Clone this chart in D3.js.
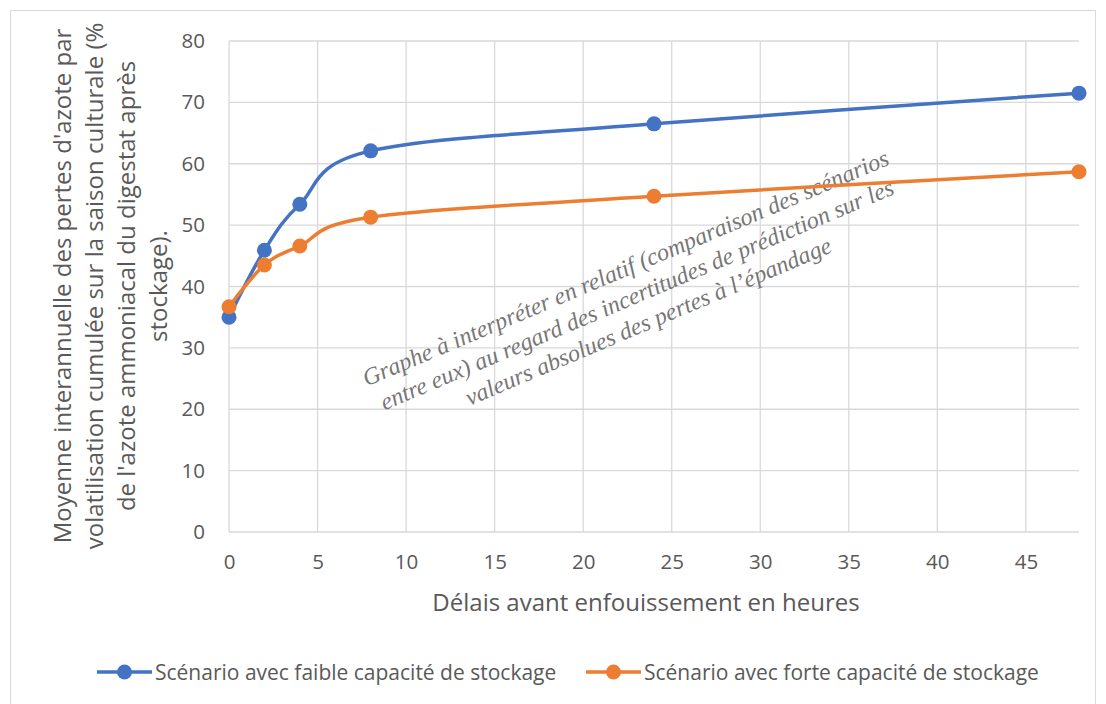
<!DOCTYPE html>
<html><head><meta charset="utf-8">
<script src="https://cdn.jsdelivr.net/npm/d3@7"></script>
<style>body{margin:0;background:#fff}svg{display:block}</style>
</head><body>
<script>
const hours = [0, 2, 4, 8, 24, 48];
const faible = [35.0, 45.9, 53.4, 62.1, 66.5, 71.5];
const forte = [36.7, 43.5, 46.6, 51.3, 54.7, 58.7];
const seriesNames = ["Scénario avec faible capacité de stockage", "Scénario avec forte capacité de stockage"];
const seriesColors = ["#4472C4", "#ED7D31"];
const xTicks = [0, 5, 10, 15, 20, 25, 30, 35, 40, 45];
const yTicks = [0, 10, 20, 30, 40, 50, 60, 70, 80];
const yTitleLines = ["Moyenne interannuelle des pertes d'azote par", "volatilisation cumulée sur la saison culturale (%", "de l'azote ammoniacal du digestat après", "stockage)."];
const xTitle = "Délais avant enfouissement en heures";
const noteLines = ["Graphe à interpréter en relatif (comparaison des scénarios", "entre eux) au regard des incertitudes de prédiction sur les", "valeurs absolues des pertes à l’épandage"];

const W = 1106, H = 704;
const font = "'Open Sans', sans-serif";
const txt = "#595959";
const svg = d3.select("body").append("svg").attr("width", W).attr("height", H);
svg.append("rect").attr("x", 10.5).attr("y", 10.5).attr("width", 1085).attr("height", 700).attr("fill", "#fff").attr("stroke", "#d9d9d9");

const x = d3.scaleLinear().domain([0, 48]).range([229, 1079]);
const y = d3.scaleLinear().domain([0, 80]).range([532, 41]);

const grid = svg.append("g").attr("stroke", "#d9d9d9").attr("stroke-width", 1.3);
yTicks.forEach(t => grid.append("line").attr("x1", x(0)).attr("x2", x(48)).attr("y1", y(t)).attr("y2", y(t)));
xTicks.forEach(t => grid.append("line").attr("x1", x(t)).attr("x2", x(t)).attr("y1", y(0)).attr("y2", y(80)));

const yAxis = svg.append("g").attr("transform", `translate(${x(0)},0)`).call(d3.axisLeft(y).tickValues(yTicks).tickSize(0).tickPadding(24));
yAxis.select(".domain").remove();
yAxis.selectAll("text").attr("font-family", font).attr("font-size", 20.5).attr("fill", txt);
const xAxis = svg.append("g").attr("transform", `translate(0,${y(0)})`).call(d3.axisBottom(x).tickValues(xTicks).tickSize(0).tickPadding(22));
xAxis.select(".domain").remove();
xAxis.selectAll("text").attr("font-family", font).attr("font-size", 20.5).attr("fill", txt);

// note text
const note = svg.append("text").attr("transform", "translate(640,302) rotate(-23)")
  .attr("font-family", "'Liberation Serif', serif").attr("font-style", "italic").attr("font-size", 24).attr("fill", "#767676").attr("text-anchor", "middle");
noteLines.forEach((l, i) => note.append("tspan").attr("x", 0).attr("y", (i - 1) * 29).text(l));

const data = [faible, forte];
const line = d3.line().x(d => x(d[0])).y(d => y(d[1])).curve(d3.curveCardinal.tension(0));
data.forEach((s, i) => {
  const pts = hours.map((h, j) => [h, s[j]]);
  svg.append("path").attr("d", line(pts)).attr("fill", "none").attr("stroke", seriesColors[i]).attr("stroke-width", 3.5).attr("stroke-linecap", "round");
  svg.selectAll(null).data(pts).enter().append("circle").attr("cx", d => x(d[0])).attr("cy", d => y(d[1])).attr("r", 7.5).attr("fill", seriesColors[i]);
});

// y title
const yt = svg.append("text").attr("transform", "translate(0,286) rotate(-90)").attr("font-family", font).attr("font-size", 24).attr("fill", txt).attr("text-anchor", "middle");
yTitleLines.forEach((l, i) => yt.append("tspan").attr("x", 0).attr("y", 71 + i * 32).text(l));

svg.append("text").attr("x", 646).attr("y", 611).attr("text-anchor", "middle").attr("font-family", font).attr("font-size", 24).attr("fill", txt).text(xTitle);

// legend
const legX = [97, 586];
seriesNames.forEach((n, i) => {
  const g = svg.append("g").attr("transform", `translate(${legX[i]},672)`);
  g.append("line").attr("x1", 0).attr("x2", 55).attr("stroke", seriesColors[i]).attr("stroke-width", 3.5);
  g.append("circle").attr("cx", 27.5).attr("r", 7.5).attr("fill", seriesColors[i]);
  g.append("text").attr("x", 58).attr("y", 8).attr("font-family", font).attr("font-size", 21).attr("fill", txt).text(n);
});
</script>
</body></html>
